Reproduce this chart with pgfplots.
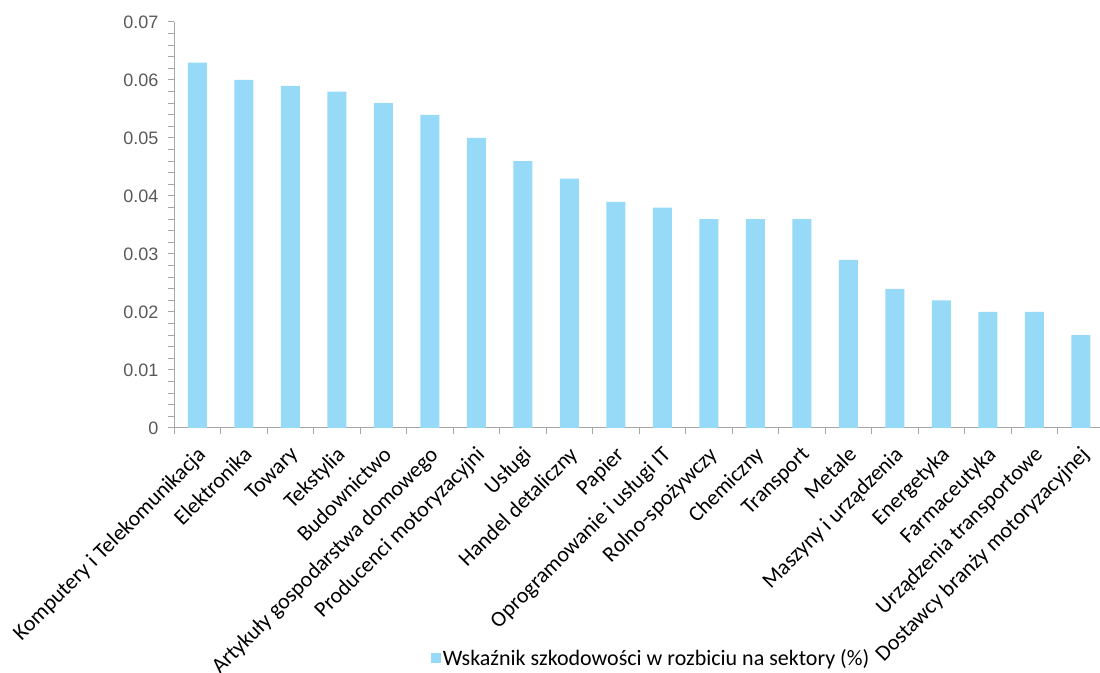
\documentclass[border=0pt]{standalone}
\usepackage{pgfplots}
\pgfplotsset{compat=1.18}
\usepackage{fontspec}
\setmainfont{Carlito}
\newfontfamily\arialf{Liberation Sans}
\definecolor{barblue}{RGB}{151,218,248}
\definecolor{axisgray}{RGB}{166,166,166}
\definecolor{ticktext}{RGB}{89,89,89}

\begin{document}
\begin{tikzpicture}[x=1bp,y=1bp]
\begin{axis}[
  at={(174bp,245bp)}, anchor=south west,
  scale only axis, width=930bp, height=406bp,
  ymin=0, ymax=0.07, xmin=-0.5, xmax=19.5,
  axis x line*=bottom, axis y line*=left,
  axis line style={axisgray, line width=1bp, -},
  tick align=outside,
  major tick length=6bp, minor tick length=6bp,
  tick style={axisgray, line width=1bp},
  scaled y ticks=false,
  xtick={-0.5,0.5,...,19.5}, xticklabels={},
  extra x ticks={0,1,2,3,4,5,6,7,8,9,10,11,12,13,14,15,16,17,18,19},
  extra x tick labels={Komputery i Telekomunikacja, Elektronika, Towary, Tekstylia,
    Budownictwo, Artykuły gospodarstwa domowego, Producenci motoryzacyjni, Usługi,
    Handel detaliczny, Papier, Oprogramowanie i usługi IT, Rolno-spożywczy,
    Chemiczny, Transport, Metale, Maszyny i urządzenia, Energetyka, Farmaceutyka,
    Urządzenia transportowe, Dostawcy branży motoryzacyjnej},
  extra x tick style={major tick length=0pt,
    xticklabel style={rotate=45, anchor=north east, inner sep=1bp,
      font=\fontsize{22bp}{24bp}\selectfont, text=black, xshift=-12bp, yshift=-10bp}},
  ytick={0,0.01,0.02,0.03,0.04,0.05,0.06,0.07},
  yticklabels={0,0.01,0.02,0.03,0.04,0.05,0.06,0.07},
  minor y tick num=4,
  yticklabel style={font=\arialf\fontsize{18bp}{20bp}\selectfont, text=ticktext, xshift=-6bp},
  legend style={at={(0.513,-0.567)}, anchor=center, draw=none, fill=none,
    font=\fontsize{22bp}{24bp}\selectfont},
  legend cell align=left,
]
\addplot[ybar, bar width=19bp, fill=barblue, draw=none,
  legend image code/.code={\fill[barblue] (0bp,-5bp) rectangle (10bp,5bp);}]
  coordinates {
  (0,0.063) (1,0.060) (2,0.059) (3,0.058) (4,0.056) (5,0.054) (6,0.050)
  (7,0.046) (8,0.043) (9,0.039) (10,0.038) (11,0.036) (12,0.036) (13,0.036)
  (14,0.029) (15,0.024) (16,0.022) (17,0.020) (18,0.020) (19,0.016)
  };
\addlegendentry{Wskaźnik szkodowości w rozbiciu na sektory (\%)}
\end{axis}
\pgfresetboundingbox
\useasboundingbox (0,0) rectangle (1100,673);
\end{tikzpicture}
\end{document}
